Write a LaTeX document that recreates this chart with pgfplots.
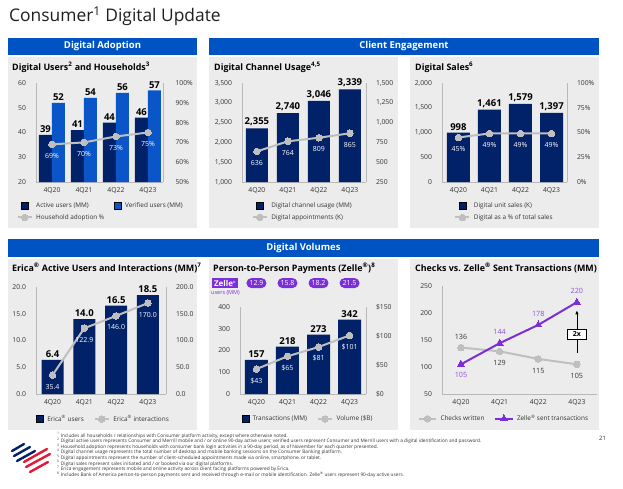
\documentclass[border=0pt]{standalone}
\usepackage{pgfplots}
\pgfplotsset{compat=1.18}
\usepackage{fontspec}
\setmainfont{Open Sans}
\usetikzlibrary{arrows.meta}

\definecolor{navy}{HTML}{012169}
\definecolor{boablue}{HTML}{0053C2}
\definecolor{verblue}{HTML}{0A55C8}
\definecolor{panelgray}{HTML}{ECECEC}
\definecolor{linegray}{HTML}{BFBFBF}
\definecolor{axgray}{HTML}{B8B8B8}
\definecolor{zpurple}{HTML}{7A2FD7}
\definecolor{txt}{HTML}{333333}
\definecolor{boared}{HTML}{E31837}

\newcommand\fs[1]{\fontsize{#1}{#1}\selectfont}

\pgfplotsset{
  base/.style={
    scale only axis, anchor=south west,
    xmin=-0.5, xmax=3.5,
    xtick={0,1,2,3}, xticklabels={4Q20,4Q21,4Q22,4Q23},
    major tick length=0pt, tick style={draw=none},
    ticklabel style={font=\fs{6.8}, text=txt},
    /pgf/number format/assume math mode=true,
    /pgf/number format/1000 sep={,},
  },
  leftax/.style={base, axis x line*=bottom, axis y line*=left,
    axis line style={-, draw=axgray, line width=0.9pt},
    yticklabel style={xshift=-6.5pt}, xticklabel style={yshift=-2.5pt}},
  rightax/.style={base, axis y line*=right, axis x line=none, clip=false,
    axis line style={-, draw=axgray, line width=0.9pt},
    yticklabel style={xshift=6.5pt}},
  labax/.style={base, hide axis, clip=false,
    legend style={draw=none, fill=none, font=\fs{6.4}, text=txt, inner sep=0pt,
      cells={anchor=west}, row sep=1pt,
      /tikz/every odd column/.append style={column sep=1.5pt},
      /tikz/every even column/.append style={column sep=8pt}},
  },
  barlab/.style={nodes near coords, every node near coord/.append style={font=\bfseries\fs{9.5}, text=black, inner sep=2pt}},
  gline/.style={draw=linegray, line width=2pt, mark=*, mark size=3.3pt, mark options={fill=linegray, draw=linegray, line width=0pt}},
  wlab/.style={nodes near coords, every node near coord/.append style={font=\fs{7}, text=white, anchor=center, yshift=-11.5pt}},
  sqleg/.style={legend image code/.code={\fill[##1] (3.5pt,-3.5pt) rectangle (10.5pt,3.5pt);}},
  lnleg/.style={legend image code/.code={\draw[##1, mark repeat=2, mark phase=2] plot coordinates {(0pt,0pt) (7pt,0pt) (14pt,0pt)};}},
}

\begin{document}
\begin{tikzpicture}
\useasboundingbox (0,0) rectangle (623pt,-488pt);
\begin{scope}[x=1pt, y=-1pt]
  \fill[white] (0,0) rectangle (623,488);
  \node[anchor=base west, font=\fs{17.4}, text=black!88, inner sep=0pt] at (9,21.5) {Consumer\textsuperscript{1} Digital Update};
  % header bars
  \fill[boablue] (8,38) rectangle (197,55);
  \fill[boablue] (209,38) rectangle (599,55);
  \fill[boablue] (8,239) rectangle (599,257);
  \node[font=\bfseries\fs{9.5}, text=white] at (102.5,46.5) {Digital Adoption};
  \node[font=\bfseries\fs{9.5}, text=white] at (404,46.5) {Client Engagement};
  \node[font=\bfseries\fs{9.5}, text=white] at (303.5,248) {Digital Volumes};
  % panels
  \fill[panelgray] (8,57) rectangle (197,228);
  \fill[panelgray] (209,57) rectangle (398,228);
  \fill[panelgray] (410,57) rectangle (599,228);
  \fill[panelgray] (8,259) rectangle (197,430);
  \fill[panelgray] (209,259) rectangle (398,430);
  \fill[panelgray] (410,259) rectangle (599,430);
  % panel titles
  \begin{scope}[every node/.style={anchor=base west, font=\bfseries\fs{8.9}, inner sep=0pt}]
  \node at (12,70) {Digital Users\textsuperscript{2} and Households\textsuperscript{3}};
  \node at (214,70) {Digital Channel Usage\textsuperscript{4,5}};
  \node at (415,70) {Digital Sales\textsuperscript{6}};
  \node at (12,271) {Erica\textsuperscript{®} Active Users and Interactions (MM)\textsuperscript{7}};
  \node at (213,271) {Person-to-Person Payments (Zelle\textsuperscript{®})\textsuperscript{8}};
  \node at (415,271) {Checks vs. Zelle\textsuperscript{®} Sent Transactions (MM)};
  \end{scope}
  % zelle logo
  \node[fill=zpurple, text=white, font=\bfseries\fs{8}, inner sep=0pt, minimum width=26pt, minimum height=10pt] at (225,283) {Zelle\textsuperscript{\fs{3}®}};
  \node[anchor=west, text=zpurple, font=\fs{5.5}, inner sep=0pt] at (211,293) {users (MM)};
  % logo
  \begin{scope}[line width=2.4pt, line cap=round]
    \draw[navy] (12,451) -- (24,444);
    \draw[navy] (14,456) -- (30,447);
    \draw[navy] (17,461) -- (35,451);
    \draw[boared] (24,462) -- (47,449);
    \draw[boared] (26,467) -- (50,454);
    \draw[boared] (30,472) -- (48,462);
  \end{scope}
  % footnotes
  \begin{scope}[every node/.style={anchor=base west, font=\fs{4.75}, text=txt, inner sep=0pt}]
    \node at (57,437) {\textsuperscript{1} Includes all households / relationships with Consumer platform activity, except where otherwise noted.};
    \node at (57,442.6) {\textsuperscript{2} Digital active users represents Consumer and Merrill mobile and / or online 90-day active users; verified users represent Consumer and Merrill users with a digital identification and password.};
    \node at (57,448.2) {\textsuperscript{3} Household adoption represents households with consumer bank login activities in a 90-day period, as of November for each quarter presented.};
    \node at (57,453.8) {\textsuperscript{4} Digital channel usage represents the total number of desktop and mobile banking sessions on the Consumer Banking platform.};
    \node at (57,459.4) {\textsuperscript{5} Digital appointments represent the number of client-scheduled appointments made via online, smartphone, or tablet.};
    \node at (57,465) {\textsuperscript{6} Digital sales represent sales initiated and / or booked via our digital platforms.};
    \node at (57,470.6) {\textsuperscript{7} Erica engagement represents mobile and online activity across client facing platforms powered by Erica.};
    \node at (57,476.2) {\textsuperscript{8} Includes Bank of America person-to-person payments sent and received through e-mail or mobile identification. Zelle\textsuperscript{®} users represent 90-day active users.};
  \end{scope}
  \node[anchor=base west, font=\fs{6}, text=txt, inner sep=0pt] at (599,440) {21};
\end{scope}

%% ---------- Panel 1: Digital users ----------
\begin{axis}[leftax, at={(36pt,-182pt)}, width=127pt, height=99pt, xmax=3.47,
  ymin=20, ymax=60, ytick={20,30,...,60}, ybar=0pt, bar width=13pt]
\addplot[fill=navy, draw=none] coordinates {(0,39) (1,41) (2,44) (3,46)};
\addplot[fill=verblue, draw=none] coordinates {(0,52) (1,54) (2,56) (3,57)};
\end{axis}
\begin{axis}[rightax, at={(36pt,-182pt)}, width=127pt, height=99pt, xmax=3.47,
  ymin=50, ymax=100, ytick={50,60,...,100}, yticklabel={\pgfmathprintnumber{\tick}\%},
  yticklabel style={xshift=2.5pt}]
\addplot[gline, wlab, nodes near coords={\pgfmathprintnumber{\pgfplotspointmeta}\%}] coordinates {(0,69) (1,70) (2,73) (3,75)};
\end{axis}
\begin{axis}[labax, at={(36pt,-182pt)}, width=127pt, height=99pt, xmax=3.47, ymin=20, ymax=60,
  legend columns=2, legend style={at={(0.51,-0.30)}, anchor=center}]
\addlegendimage{sqleg, fill=navy}
\addlegendentry{Active users (MM)}
\addlegendimage{sqleg, fill=verblue}
\addlegendentry{Verified users (MM)}
\addlegendimage{lnleg, gline}
\addlegendentry{Household adoption \%}
\addplot[forget plot, draw=none, barlab, every node near coord/.append style={anchor=south, xshift=-6.5pt}] coordinates {(0,39) (1,41) (2,44) (3,46)};
\addplot[forget plot, draw=none, barlab, every node near coord/.append style={anchor=south, xshift=6.5pt}] coordinates {(0,52) (1,54) (2,56) (3,57)};
\end{axis}

%% ---------- Panel 2: Digital channel usage ----------
\begin{axis}[leftax, at={(242pt,-182pt)}, width=124pt, height=99pt, xmin=-0.48, xmax=3.52,
  ymin=1000, ymax=3500, ytick={1000,1500,...,3500}]
\addplot[ybar, bar width=22pt, fill=navy, draw=none] coordinates {(0,2355) (1,2740) (2,3046) (3,3339)};
\end{axis}
\begin{axis}[rightax, at={(242pt,-182pt)}, width=124pt, height=99pt, xmin=-0.48, xmax=3.52,
  ymin=250, ymax=1500, ytick={250,500,...,1500}]
\addplot[gline, wlab] coordinates {(0,636) (1,764) (2,809) (3,865)};
\end{axis}
\begin{axis}[labax, at={(242pt,-182pt)}, width=124pt, height=99pt, xmin=-0.48, xmax=3.52, ymin=1000, ymax=3500,
  legend style={at={(0.49,-0.30)}, anchor=center}]
\addlegendimage{sqleg, fill=navy}
\addlegendentry{Digital channel usage (MM)}
\addlegendimage{lnleg, gline}
\addlegendentry{Digital appointments (K)}
\addplot[forget plot, ybar, bar width=22pt, draw=none, fill=none, barlab] coordinates {(0,2355) (1,2740) (2,3046) (3,3339)};
\end{axis}

%% ---------- Panel 3: Digital sales ----------
\begin{axis}[leftax, at={(442pt,-182pt)}, width=125pt, height=99pt, xmin=-0.53, xmax=3.5,
  ymin=0, ymax=2000, ytick={0,500,...,2000}]
\addplot[ybar, bar width=23pt, fill=navy, draw=none] coordinates {(0,998) (1,1461) (2,1579) (3,1397)};
\end{axis}
\begin{axis}[rightax, at={(442pt,-182pt)}, width=125pt, height=99pt, xmin=-0.53, xmax=3.5,
  ymin=0, ymax=100, ytick={0,25,...,100}, yticklabel={\pgfmathprintnumber{\tick}\%}]
\addplot[gline, wlab, nodes near coords={\pgfmathprintnumber{\pgfplotspointmeta}\%}] coordinates {(0,45) (1,49) (2,49) (3,49)};
\end{axis}
\begin{axis}[labax, at={(442pt,-182pt)}, width=125pt, height=99pt, xmin=-0.53, xmax=3.5, ymin=0, ymax=2000,
  legend style={at={(0.5,-0.30)}, anchor=center}]
\addlegendimage{sqleg, fill=navy}
\addlegendentry{Digital unit sales (K)}
\addlegendimage{lnleg, gline}
\addlegendentry{Digital as a \% of total sales}
\addplot[forget plot, ybar, bar width=23pt, draw=none, fill=none, barlab] coordinates {(0,998) (1,1461) (2,1579) (3,1397)};
\end{axis}

%% ---------- Panel 4: Erica ----------
\begin{axis}[leftax, at={(36pt,-394pt)}, width=130pt, height=107pt, xmin=-0.52, xmax=3.57,
  ymin=0, ymax=20, ytick={0,5,...,20},
  /pgf/number format/.cd, fixed, fixed zerofill, precision=1]
\addplot[ybar, bar width=22pt, fill=navy, draw=none] coordinates {(0,6.4) (1,14.0) (2,16.5) (3,18.5)};
\end{axis}
\begin{axis}[rightax, at={(36pt,-394pt)}, width=130pt, height=107pt, xmin=-0.52, xmax=3.57,
  ymin=0, ymax=200, ytick={0,50,...,200},
  /pgf/number format/.cd, fixed, fixed zerofill, precision=1]
\addplot[gline, wlab] coordinates {(0,35.4) (1,122.9) (2,146.0) (3,170.0)};
\end{axis}
\begin{axis}[labax, at={(36pt,-394pt)}, width=130pt, height=107pt, xmin=-0.52, xmax=3.57, ymin=0, ymax=20,
  legend columns=2, legend style={at={(0.52,-0.234)}, anchor=center},
  /pgf/number format/.cd, fixed, fixed zerofill, precision=1]
\addlegendimage{sqleg, fill=navy}
\addlegendentry{Erica\textsuperscript{®} users}
\addlegendimage{lnleg, gline}
\addlegendentry{Erica\textsuperscript{®} interactions}
\addplot[forget plot, ybar, bar width=22pt, draw=none, fill=none, barlab] coordinates {(0,6.4) (1,14.0) (2,16.5) (3,18.5)};
\end{axis}

%% ---------- Panel 5: P2P payments ----------
\begin{axis}[leftax, at={(240pt,-394pt)}, width=126pt, height=87pt, xmin=-0.53, xmax=3.53,
  ymin=0, ymax=400, ytick={0,100,...,400}]
\addplot[ybar, bar width=23pt, fill=navy, draw=none] coordinates {(0,157) (1,218) (2,273) (3,342)};
\end{axis}
\begin{axis}[rightax, at={(240pt,-394pt)}, width=126pt, height=87pt, xmin=-0.53, xmax=3.53,
  ymin=0, ymax=150, ytick={0,50,...,150}, yticklabel={\$\pgfmathprintnumber{\tick}}]
\addplot[gline, wlab, nodes near coords={\$\pgfmathprintnumber{\pgfplotspointmeta}}] coordinates {(0,43) (1,65) (2,81) (3,101)};
\end{axis}
\begin{axis}[labax, at={(240pt,-394pt)}, width=126pt, height=87pt, xmin=-0.53, xmax=3.53, ymin=0, ymax=400,
  legend columns=2, legend style={at={(0.54,-0.287)}, anchor=center}]
\addlegendimage{sqleg, fill=navy}
\addlegendentry{Transactions (MM)}
\addlegendimage{lnleg, gline}
\addlegendentry{Volume (\$B)}
\addplot[forget plot, ybar, bar width=23pt, draw=none, fill=none, barlab] coordinates {(0,157) (1,218) (2,273) (3,342)};
% Zelle users (MM) pills
\addplot[forget plot, draw=none, nodes near coords, point meta=explicit symbolic,
  every node near coord/.append style={anchor=center, fill=zpurple, text=white, rounded corners=5pt,
    minimum width=20pt, minimum height=10pt, inner sep=1pt, font=\fs{7}}]
  coordinates {(0,510) [12.9] (1,510) [15.8] (2,510) [18.2] (3,510) [21.5]};
\end{axis}

%% ---------- Panel 6: Checks vs Zelle ----------
\begin{axis}[leftax, clip=false, at={(442pt,-394pt)}, width=155pt, height=108pt, xmin=-0.49, xmax=3.52,
  ymin=50, ymax=250, ytick={50,100,...,250},
  legend columns=2, legend style={at={(0.4,-0.23)}, anchor=center, draw=none, fill=none,
    font=\fs{6.4}, text=txt, inner sep=0pt, cells={anchor=west},
    /tikz/every odd column/.append style={column sep=1.5pt},
    /tikz/every even column/.append style={column sep=8pt}}]
\addplot[gline] coordinates {(0,136) (1,129) (2,115) (3,105)};
\addlegendentry{Checks written}
\addplot[draw=zpurple, line width=2pt, mark=triangle*, mark size=4pt, mark options={fill=zpurple, draw=zpurple, line width=0pt}] coordinates {(0,105) (1,144) (2,178) (3,220)};
\addlegendentry{Zelle\textsuperscript{®} sent transactions}
\addplot[forget plot, draw=none, nodes near coords, every node near coord/.append style={font=\fs{7.2}, text=txt, anchor=center, yshift=11pt}] coordinates {(0,136)};
\addplot[forget plot, draw=none, nodes near coords, every node near coord/.append style={font=\fs{7.2}, text=txt, anchor=center, yshift=-12pt}] coordinates {(1,129) (2,115) (3,105)};
\addplot[forget plot, draw=none, nodes near coords, every node near coord/.append style={font=\fs{7.2}, text=zpurple!85, anchor=center, yshift=-11pt}] coordinates {(0,105)};
\addplot[forget plot, draw=none, nodes near coords, every node near coord/.append style={font=\fs{7.2}, text=zpurple!85, anchor=center, yshift=11pt}] coordinates {(1,144) (2,178) (3,220)};
\draw[-{Latex[length=4pt,width=3.5pt]}, line width=0.8pt] (axis cs:3,126) -- (axis cs:3,205);
\node[draw, fill=white, font=\bfseries\fs{7}, inner sep=1.5pt, minimum width=19pt, minimum height=10pt, line width=0.6pt] at (axis cs:3,161) {2x};
\end{axis}
\end{tikzpicture}
\end{document}
